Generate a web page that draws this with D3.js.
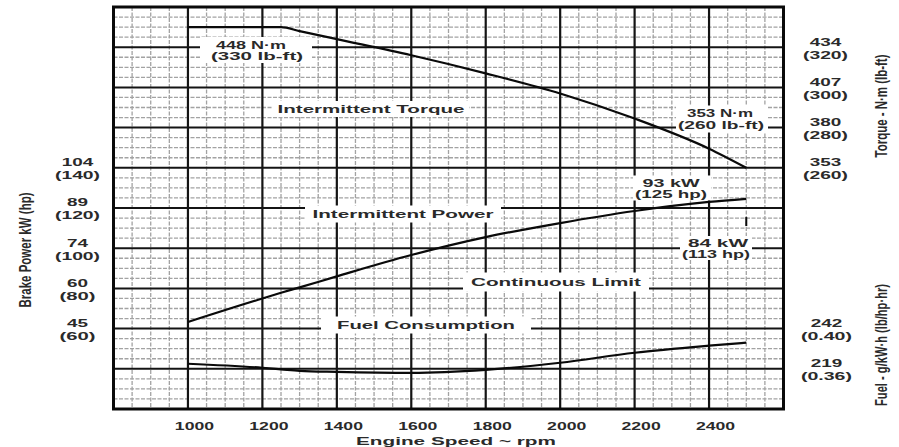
<!DOCTYPE html>
<html>
<head>
<meta charset="utf-8">
<script src="https://cdn.jsdelivr.net/npm/d3@7/dist/d3.min.js"></script>
<style>
  html, body { margin: 0; padding: 0; background: #fff; }
  svg { display: block; }
  text { font-family: "Liberation Sans", Arial, sans-serif; fill: #2a2a2a; }
</style>
</head>
<body>
<svg id="chart" width="899" height="447"></svg>
<script>
// ---------------- data ----------------
const rpm          = [1000, 1200, 1250, 1300, 1400, 1600, 1800, 2000, 2200, 2400, 2500];
const torqueLbFt   = [330, 330, 330, 328, 324, 316, 307, 297, 284.5, 269.5, 260];
const powerHp      = [63.3, 75, 77.8, 80.5, 86, 96.6, 105.5, 112.5, 118.5, 123, 124.5];
const fuelLbHpHr   = [0.365, 0.361, 0.3595, 0.358, 0.357, 0.356, 0.359, 0.366, 0.376, 0.383, 0.386];

const contRpm = [2500];
const contHp  = [113];

const rpmTicks        = [1000, 1200, 1400, 1600, 1800, 2000, 2200, 2400];
const powerTicksHp    = [60, 80, 100, 120, 140];
const powerTicksKw    = ["45", "60", "74", "89", "104"];
const powerTicksHpTxt = ["(60)", "(80)", "(100)", "(120)", "(140)"];
const torqueTicksLbFt = [260, 280, 300, 320];
const torqueTicksNm   = ["353", "380", "407", "434"];
const torqueTicksLbTxt= ["(260)", "(280)", "(300)", "(320)"];
const fuelTicksLb     = [0.36, 0.40];
const fuelTicksG      = ["219", "242"];
const fuelTicksLbTxt  = ["(0.36)", "(0.40)"];

const curveNames = ["Intermittent Torque", "Intermittent Power", "Continuous Limit", "Fuel Consumption"];
const peakTorqueTxt = ["448 N·m", "(330 lb-ft)"];
const endTorqueTxt  = ["353 N·m", "(260 lb-ft)"];
const endPowerTxt   = ["93 kW", "(125 hp)"];
const contPowerTxt  = ["84 kW", "(113 hp)"];

const xTitle = "Engine Speed ~ rpm";
const yLeftTitle = "Brake Power kW (hp)";
const yTorqueTitle = "Torque - N·m (lb-ft)";
const yFuelTitle = "Fuel - g/kW·h (lb/hp·hr)";

// ---------------- layout ----------------
const L = 113.5, R = 783.5, T = 7, B = 409;
const svg = d3.select("#chart");

const x = d3.scaleLinear().domain([800, 2600]).range([L, R]);
const yP = d3.scaleLinear().domain([20, 220]).range([B, T]);
const yT = d3.scaleLinear().domain([140, 340]).range([B, T]);
const yF = d3.scaleLinear().domain([0.32, 0.72]).range([B, T]);

// ---------------- grid ----------------
const grid = svg.append("g");
grid.selectAll("line.mv").data(d3.range(850, 2600, 50).filter(v => v % 200 !== 0))
  .join("line").attr("x1", d => x(d)).attr("x2", d => x(d)).attr("y1", T).attr("y2", B)
  .attr("stroke", "#a2a2a2").attr("stroke-width", 1.3).attr("stroke-dasharray", "4,1.5");
grid.selectAll("line.mh").data(d3.range(25, 220, 5).filter(v => v % 20 !== 0))
  .join("line").attr("y1", d => yP(d)).attr("y2", d => yP(d)).attr("x1", L).attr("x2", R)
  .attr("stroke", "#a2a2a2").attr("stroke-width", 1.3).attr("stroke-dasharray", "4,1.5");
grid.selectAll("line.Mv").data(d3.range(1000, 2600, 200))
  .join("line").attr("x1", d => x(d)).attr("x2", d => x(d)).attr("y1", T).attr("y2", B)
  .attr("stroke", "#141414").attr("stroke-width", 2.2);
grid.selectAll("line.Mh").data(d3.range(40, 220, 20))
  .join("line").attr("y1", d => yP(d)).attr("y2", d => yP(d)).attr("x1", L).attr("x2", R)
  .attr("stroke", "#141414").attr("stroke-width", 2);

// ---------------- label boxes ----------------
const labels = svg.append("g");
function stretchText(g, str, cx, cy, width, size) {
  return g.append("text").attr("x", cx).attr("y", cy).attr("dy", "0.35em")
    .attr("text-anchor", "middle").attr("font-size", size || 11).attr("font-weight", "bold")
    .attr("textLength", width).attr("lengthAdjust", "spacingAndGlyphs").text(str);
}
function box(cx, cy, w, h) {
  labels.append("rect").attr("x", cx - w / 2).attr("y", cy - h / 2).attr("width", w).attr("height", h)
    .attr("fill", "#fff");
}
box(371, 109, 196, 16);
box(403, 214, 196, 17);
box(556, 282, 186, 19);
box(426, 325, 210, 17);
box(256, 50, 112, 26);
box(722, 119, 92, 27);
box(672, 188, 78, 25);
box(716, 248, 72, 24);

// ---------------- curves ----------------
const lineT = d3.line().x((d, i) => x(rpm[i])).y(d => yT(d)).curve(d3.curveMonotoneX);
const lineP = d3.line().x((d, i) => x(rpm[i])).y(d => yP(d)).curve(d3.curveMonotoneX);
const lineF = d3.line().x((d, i) => x(rpm[i])).y(d => yF(d)).curve(d3.curveMonotoneX);
const curves = svg.append("g").attr("fill", "none").attr("stroke", "#0a0a0a").attr("stroke-width", 2.2);
curves.append("path").attr("d", lineT(torqueLbFt));
curves.append("path").attr("d", lineP(powerHp));
curves.append("path").attr("d", lineF(fuelLbHpHr));
svg.selectAll("line.cont").data(contRpm).join("line")
  .attr("x1", d => x(d)).attr("x2", d => x(d))
  .attr("y1", (d, i) => yP(contHp[i]) - 5).attr("y2", (d, i) => yP(contHp[i]) + 4)
  .attr("stroke", "#0a0a0a").attr("stroke-width", 2);

// ---------------- in-plot text ----------------
stretchText(labels, curveNames[0], 371, 109, 187);
stretchText(labels, curveNames[1], 403, 214, 181);
stretchText(labels, curveNames[2], 556, 282, 170);
stretchText(labels, curveNames[3], 426, 325, 178);
stretchText(labels, peakTorqueTxt[0], 251, 45, 70);
stretchText(labels, peakTorqueTxt[1], 257, 56, 92);
stretchText(labels, endTorqueTxt[0], 720, 113, 66);
stretchText(labels, endTorqueTxt[1], 721, 125, 86);
stretchText(labels, endPowerTxt[0], 671, 183, 57);
stretchText(labels, endPowerTxt[1], 671, 194, 72);
stretchText(labels, contPowerTxt[0], 718, 243, 60);
stretchText(labels, contPowerTxt[1], 716, 254, 68);

// ---------------- border ----------------
svg.append("rect").attr("x", L).attr("y", T).attr("width", R - L).attr("height", B - T)
  .attr("fill", "none").attr("stroke", "#0a0a0a").attr("stroke-width", 3);

// ---------------- axes ----------------
function stretchTicks(sel, factor) {
  sel.each(function () {
    const n = this.getComputedTextLength();
    d3.select(this).attr("textLength", n * factor).attr("lengthAdjust", "spacingAndGlyphs");
  });
}

const gx = svg.append("g").attr("transform", `translate(0,${B})`)
  .call(d3.axisBottom(x).tickValues(rpmTicks).tickSize(0).tickPadding(13).tickFormat(d3.format("d")));
gx.select(".domain").remove();
gx.selectAll("text").attr("font-size", 11).attr("font-weight", "bold").attr("fill", "#2a2a2a")
  .attr("font-family", "Liberation Sans, Arial, sans-serif").attr("dx", 6);
stretchTicks(gx.selectAll("text"), 1.6);

const gl = svg.append("g").attr("transform", `translate(${L},0)`)
  .call(d3.axisLeft(yP).tickValues(powerTicksHp).tickSize(0).tickFormat(""));
gl.select(".domain").remove();
gl.selectAll(".tick").each(function (d, i) {
  const g = d3.select(this);
  stretchText(g, powerTicksKw[i], -36, -6, powerTicksKw[i].length * 10.5);
  stretchText(g, powerTicksHpTxt[i], -36, 7, powerTicksHpTxt[i].length * 9);
});

const gr = svg.append("g").attr("transform", `translate(${R},0)`)
  .call(d3.axisRight(yT).tickValues(torqueTicksLbFt).tickSize(0).tickFormat(""));
gr.select(".domain").remove();
gr.selectAll(".tick").each(function (d, i) {
  const g = d3.select(this);
  stretchText(g, torqueTicksNm[i], 42, -6, torqueTicksNm[i].length * 10.5);
  stretchText(g, torqueTicksLbTxt[i], 42, 7, torqueTicksLbTxt[i].length * 9);
});

const gf = svg.append("g").attr("transform", `translate(${R},0)`)
  .call(d3.axisRight(yF).tickValues(fuelTicksLb).tickSize(0).tickFormat(""));
gf.select(".domain").remove();
gf.selectAll(".tick").each(function (d, i) {
  const g = d3.select(this);
  stretchText(g, fuelTicksG[i], 43, -6, fuelTicksG[i].length * 10.5);
  stretchText(g, fuelTicksLbTxt[i], 43, 7, fuelTicksLbTxt[i].length * 8.5);
});

// ---------------- titles ----------------
stretchText(svg, xTitle, 456, 441, 200);
function vTitle(str, cx, cy, len) {
  svg.append("text").attr("transform", `translate(${cx},${cy}) scale(1.6,1) rotate(-90)`)
    .attr("text-anchor", "middle").attr("dy", "0.35em").attr("font-size", 10).attr("font-weight", "bold")
    .attr("textLength", len).attr("lengthAdjust", "spacingAndGlyphs").text(str);
}
vTitle(yLeftTitle, 25, 250, 115);
vTitle(yTorqueTitle, 881, 106, 103);
vTitle(yFuelTitle, 881, 345, 122);
</script>
</body>
</html>
